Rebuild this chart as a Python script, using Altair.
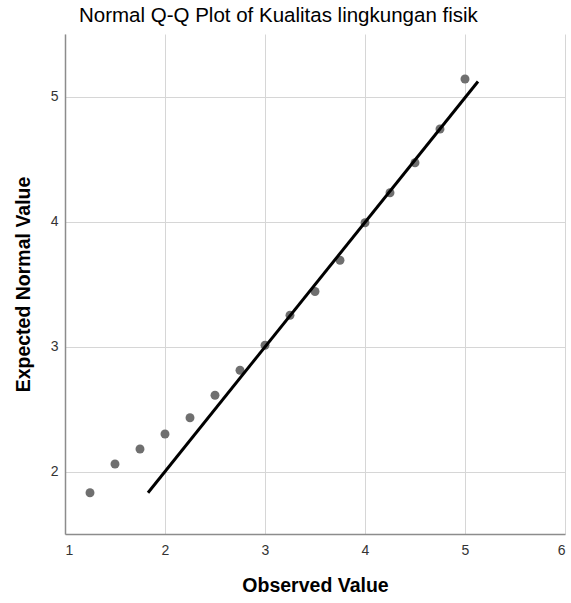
import altair as alt
import pandas as pd

observed = [1.25, 1.5, 1.75, 2.0, 2.25, 2.5, 2.75, 3.0, 3.25, 3.5, 3.75, 4.0, 4.25, 4.5, 4.75, 5.0]
expected = [1.83, 2.06, 2.18, 2.30, 2.43, 2.61, 2.81, 3.01, 3.25, 3.44, 3.69, 3.99, 4.23, 4.47, 4.74, 5.14]
line_x = [1.83, 5.13]
line_y = [1.83, 5.12]
x_ticks = [1, 2, 3, 4, 5, 6]
y_ticks = [2, 3, 4, 5]

pts = pd.DataFrame({"obs": observed, "exp": expected})
ln = pd.DataFrame({"obs": line_x, "exp": line_y})

FONT = "Liberation Sans"

xscale = alt.Scale(domain=[1, 6], nice=False, zero=False)
yscale = alt.Scale(domain=[1.5, 5.5], nice=False, zero=False)

xaxis = alt.Axis(title="Observed Value", values=x_ticks, format="d", ticks=False,
                 labelPadding=9, titlePadding=19, grid=True)
yaxis = alt.Axis(title="Expected Normal Value", values=y_ticks, format="d", ticks=False,
                 labelPadding=7, titlePadding=17, grid=True)

points = alt.Chart(pts).mark_circle(size=80, color="#6f6f6f", opacity=1).encode(
    x=alt.X("obs:Q", scale=xscale, axis=xaxis),
    y=alt.Y("exp:Q", scale=yscale, axis=yaxis),
)

line = alt.Chart(ln).mark_line(color="#000000", strokeWidth=3).encode(
    x=alt.X("obs:Q", scale=xscale),
    y=alt.Y("exp:Q", scale=yscale),
)

chart = alt.layer(points, line).properties(
    width=500,
    height=500,
    background="white",
    autosize=alt.AutoSizeParams(type="none"),
    padding={"left": 65, "top": 34, "right": 6, "bottom": 69},
    title=alt.TitleParams(
        "Normal Q-Q Plot of Kualitas lingkungan fisik",
        anchor="start", frame="group", dx=14, offset=8, font=FONT, fontSize=20.5,
        fontWeight="normal", color="#000000",
    ),
).configure_view(stroke=None).configure_axis(
    labelFont=FONT, labelFontSize=14, labelColor="#333333",
    titleFont=FONT, titleFontSize=19.5, titleFontWeight="bold", titleColor="#000000",
    gridColor="#d6d6d6", gridWidth=1,
    domainColor="#8c8c8c", domainWidth=1.5,
)

chart.save("out.html", embed_options={"renderer": "svg", "actions": False})
